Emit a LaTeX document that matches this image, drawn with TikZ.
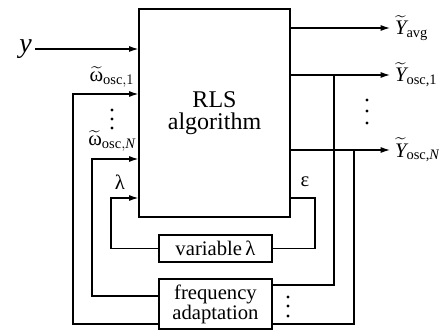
\documentclass[tikz,border=0pt]{standalone}
\usepackage{amsmath}
\usepackage{fontspec}
\setmainfont{Liberation Serif}
\usetikzlibrary{arrows.meta,positioning}
\tikzset{
  block/.style={draw,line width=0.9pt,align=center,inner sep=0pt},
  sig/.style={line width=0.9pt},
  >={Latex[length=7pt,width=4.5pt]}
}
\newcommand{\wosc}[1]{$\widetilde{\text{ω}}_{\text{osc},#1}$}
\newcommand{\Yout}[1]{$\widetilde{\text{\itshape Y}}_{\text{#1}}$}

\begin{document}
\begin{tikzpicture}[x=0.75pt,y=-0.75pt,font=\fontsize{15.5}{15}\selectfont]
\useasboundingbox (0,0) rectangle (439,331);
% blocks
\node[block,minimum width=113.25pt,minimum height=156pt,font=\fontsize{18}{17}\selectfont] (rls) at (214.5,113) {RLS\\algorithm};
\node[block,minimum width=84.75pt,minimum height=20.25pt] (var) at (215.5,248.5) {variable\,λ};
\node[block,minimum width=84.75pt,minimum height=37.5pt] (freq) at (215.5,304) {frequency\\adaptation};
% signal points
\coordinate (yin) at (35,49);
\coordinate (om1) at (73,94);
\coordinate (omN) at (92,159);
\coordinate (lam) at (111,198);
\coordinate (eps) at (315,198);
\coordinate (fa1) at (159,324);
\coordinate (faN) at (159,296);
\coordinate (fr1) at (272,285);
\coordinate (frN) at (272,324);
\coordinate (avg) at (390,28);
\coordinate (out1) at (390,75);
\coordinate (outN) at (390,150);
\coordinate (t1) at (334,75);
\coordinate (tN) at (354,150);
% inputs and feedback
\draw[sig,->] (yin) node[left,inner sep=2pt,font=\fontsize{21}{21}\selectfont] (ly) {\textit{y}} -- (rls.west |- yin);
\draw[sig,->] (fa1) -| (om1) -- (rls.west |- om1);
\draw[sig,->] (faN) -| (omN) -- (rls.west |- omN);
\draw[sig,->] (var.west) -| (lam) -- (rls.west |- lam);
\draw[sig] (rls.east |- eps) -- (eps) |- (var.east);
% outputs
\draw[sig,->] (rls.east |- avg) -- (avg) node[right] {\Yout{avg}};
\draw[sig,->] (rls.east |- out1) -- (out1) node[right] {\Yout{osc,1}};
\draw[sig,->] (rls.east |- outN) -- (outN) node[right] {\Yout{osc,\textit{N}}};
\draw[sig] (fr1) -| (t1);
\draw[sig] (frN) -| (tN);
% labels
\node (lom1) at (112,77) {\wosc{1}};
\node (lomN) at (112,141) {\wosc{\textit{N}}};
\node (llam) at (120,182) {λ};
\node (leps) at (305,182) {ε};
% dots
\foreach \yy in {100,111,123} \fill (367,\yy) circle (1.2pt);
\foreach \yy in {110,119,128} \fill (112,\yy) circle (1.2pt);
\foreach \yy in {297,306,316} \fill (288,\yy) circle (1.2pt);
\end{tikzpicture}
\end{document}
